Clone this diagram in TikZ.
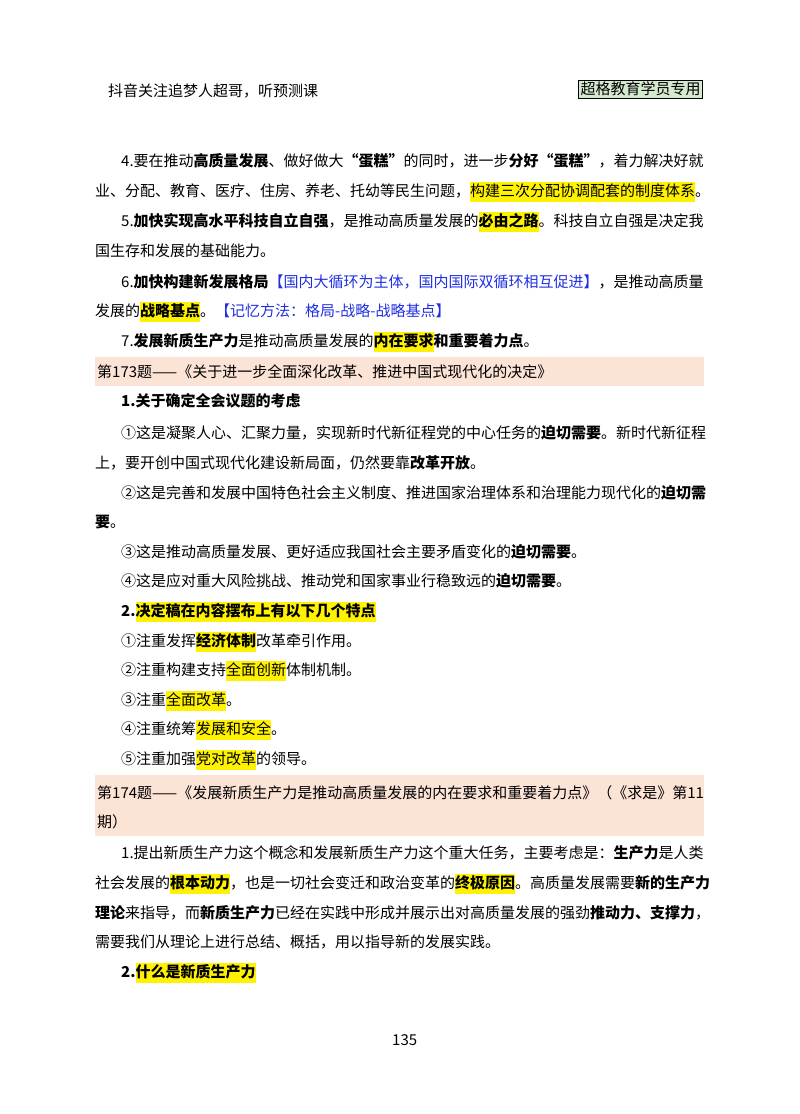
\documentclass[tikz,border=0pt]{standalone}
\usepackage{fontspec}
\setmainfont{Noto Sans CJK SC}
\usepackage{xcolor}
\definecolor{band}{HTML}{FBE3D6}
\definecolor{tagbg}{HTML}{D5E8D0}
\definecolor{bl}{HTML}{1F2FE0}
\newcommand\hl[1]{{\setlength\fboxsep{0pt}\colorbox{yellow}{\rule[-6pt]{0pt}{20pt}#1}}}
\newcommand\bb[1]{{\bfseries #1}}
\tikzset{ln/.style={anchor=base west,inner sep=0pt,font=\fontsize{15}{20}\selectfont},
 bandbox/.style={fill=band,draw=none}}
\begin{document}
\begin{tikzpicture}[x=1pt,y=-1pt]
\useasboundingbox (0,0) rectangle (800,1114);
\node[ln] (h) at (108,96) {抖音关注追梦人超哥，听预测课};
\node[draw,fill=tagbg,inner sep=2pt,font=\fontsize{15}{18}\selectfont] (tag) at (640.5,89) {超格教育学员专用};
\node[ln] (l1) at (121,166) {4.要在推动\bb{高质量发展}、做好做大\bb{“蛋糕”}的同时，进一步\bb{分好“蛋糕”}，着力解决好就};
\node[ln] (l2) at (95,196) {业、分配、教育、医疗、住房、养老、托幼等民生问题，\hl{构建三次分配协调配套的制度体系}。};
\node[ln] (l3) at (121,226) {5.\bb{加快实现高水平科技自立自强}，是推动高质量发展的\hl{\bb{必由之路}}。科技自立自强是决定我};
\node[ln] (l4) at (95,256) {国生存和发展的基础能力。};
\node[ln] (l5) at (121,287) {6.\bb{加快构建新发展格局}\textcolor{bl}{【国内大循环为主体，国内国际双循环相互促进】}，是推动高质量};
\node[ln] (l6) at (95,316) {发展的\hl{\bb{战略基点}}。\textcolor{bl}{【记忆方法：格局-战略-战略基点】}};
\node[ln] (l7) at (121,346) {7.\bb{发展新质生产力}是推动高质量发展的\hl{\bb{内在要求}}\bb{和重要着力点}。};
\fill[band] (95,357) rectangle (704,386);
\node[ln] (t173) at (97,377) {第173题——《关于进一步全面深化改革、推进中国式现代化的决定》};
\node[ln] (a1) at (121,406) {\bb{1.关于确定全会议题的考虑}};
\node[ln] (a2) at (121,438) {①这是凝聚人心、汇聚力量，实现新时代新征程党的中心任务的\bb{迫切需要}。新时代新征程};
\node[ln] (a3) at (95,468) {上，要开创中国式现代化建设新局面，仍然要靠\bb{改革开放}。};
\node[ln] (a4) at (121,498) {②这是完善和发展中国特色社会主义制度、推进国家治理体系和治理能力现代化的\bb{迫切需}};
\node[ln] (a5) at (95,527) {\bb{要}。};
\node[ln] (a6) at (121,557) {③这是推动高质量发展、更好适应我国社会主要矛盾变化的\bb{迫切需要}。};
\node[ln] (a7) at (121,586) {④这是应对重大风险挑战、推动党和国家事业行稳致远的\bb{迫切需要}。};
\node[ln] (b0) at (121,616) {\bb{2.}\hl{\bb{决定稿在内容摆布上有以下几个特点}}};
\node[ln] (b1) at (121,646) {①注重发挥\hl{\bb{经济体制}}改革牵引作用。};
\node[ln] (b2) at (121,675) {②注重构建支持\hl{全面创新}体制机制。};
\node[ln] (b3) at (121,705) {③注重\hl{全面改革}。};
\node[ln] (b4) at (121,734) {④注重统筹\hl{发展和安全}。};
\node[ln] (b5) at (121,764) {⑤注重加强\hl{党对改革}的领导。};
\fill[band] (95,775) rectangle (704,836);
\node[ln] (t174) at (97,798) {第174题——《发展新质生产力是推动高质量发展的内在要求和重要着力点》（《求是》第11};
\node[ln] (t174b) at (97,827) {期）};
\node[ln] (c1) at (121,858) {1.提出新质生产力这个概念和发展新质生产力这个重大任务，主要考虑是：\bb{生产力}是人类};
\node[ln] (c2) at (95,888) {社会发展的\hl{\bb{根本动力}}，也是一切社会变迁和政治变革的\hl{\bb{终极原因}}。高质量发展需要\bb{新的生产力}};
\node[ln] (c3) at (95,918) {\bb{理论}来指导，而\bb{新质生产力}已经在实践中形成并展示出对高质量发展的强劲\bb{推动力、支撑力}，};
\node[ln] (c4) at (95,947) {需要我们从理论上进行总结、概括，用以指导新的发展实践。};
\node[ln] (c5) at (121,977) {\bb{2.}\hl{\bb{什么是新质生产力}}};
\node[ln] (pg) at (392,1045) {135};
\end{tikzpicture}
\end{document}
